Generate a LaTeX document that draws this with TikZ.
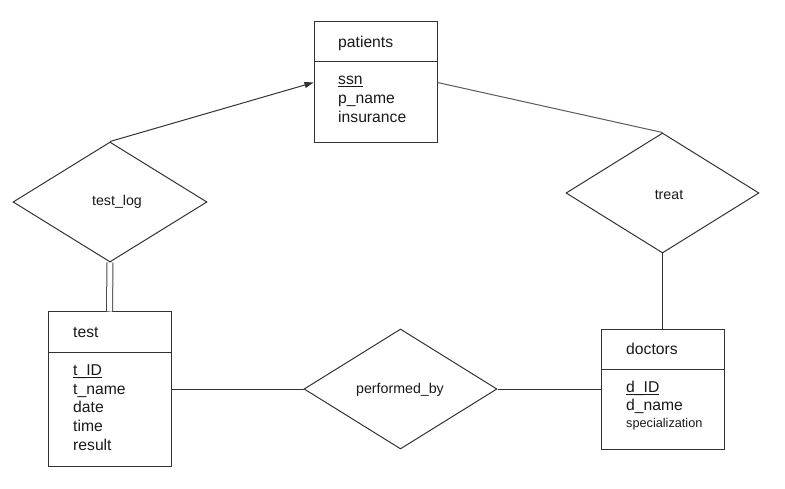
\documentclass[tikz,border=0pt]{standalone}
\usepackage{fontspec}
\setmainfont{Liberation Sans}
\usetikzlibrary{shapes.geometric,arrows.meta}
\newcommand\ulx[1]{\setbox0\hbox{#1}\rlap{\rule[-2.2pt]{\wd0}{0.9pt}}#1}
\begin{document}
\begin{tikzpicture}[x=1pt,y=-1pt,
  ent/.style={draw=black!80,line width=1pt,rectangle,minimum width=123pt,inner sep=0pt},
  rel/.style={draw=black!80,line width=1pt,diamond,minimum width=194pt,minimum height=120pt,inner sep=0pt},
  reltxt/.style={inner sep=0pt,font=\fontsize{14.2}{16}\selectfont,text=black!90},
  txt/.style={anchor=base west,inner sep=0pt,font=\fontsize{15.7}{18}\selectfont,text=black!90},
  small/.style={anchor=base west,inner sep=0pt,font=\fontsize{12.7}{15}\selectfont,text=black!90},
  conn/.style={draw=black!80,line width=1pt}]
\useasboundingbox (0,0) rectangle (785,489);
% entities
\node[ent,minimum height=121pt] (pat) at (375.5,82.5) {};
\node[ent,minimum height=154pt] (test) at (109.5,389) {};
\node[ent,minimum height=120pt] (doc) at (662.5,389) {};
\draw[conn] (pat.west |- 0,62) -- (pat.east |- 0,62);
\draw[conn] (test.west |- 0,352) -- (test.east |- 0,352);
\draw[conn] (doc.west |- 0,369) -- (doc.east |- 0,369);
% patients text
\node[txt] (pt) at (338,48) {patients};
\node[txt] (pa1) at (338,85) {\ulx{ssn}};
\node[txt] (pa2) at (338,104) {p\_name};
\node[txt] (pa3) at (338,122.5) {insurance};
% test text
\node[txt] (tt) at (73,337.5) {test};
\node[txt] (ta1) at (73,375.5) {\ulx{t\_ID}};
\node[txt] (ta2) at (73,394.2) {t\_name};
\node[txt] (ta3) at (73,412.8) {date};
\node[txt] (ta4) at (73,431.4) {time};
\node[txt] (ta5) at (73,450) {result};
% doctors text
\node[txt] (dt) at (626,354) {doctors};
\node[txt] (da1) at (626,392.5) {\ulx{d\_ID}};
\node[txt] (da2) at (626,410.8) {d\_name};
\node[small] (da3) at (626,427) {specialization};
% relationships
\node[rel] (tl) at (110,202) {};
\node[rel,minimum width=193pt] (tr) at (662.5,193) {};
\node[rel,minimum width=193pt] (pb) at (400.5,389) {};
\node[reltxt] (tlt) at (117,202) {test\_log};
\node[reltxt] (trt) at (669,194.5) {treat};
\node[reltxt] (pbt) at (400,390) {performed\_by};
% connectors
\draw[conn,-{Triangle[length=9pt,width=6pt]}] (tl.north) -- (pat.west);
\draw[draw=black!65,line width=1pt] (pat.east) -- (tr.north);
\draw[draw=black!70,line width=1pt,double=white,double distance=5pt] (tl.south) -- (test.north);
\draw[conn] (tr.south) -- (doc.north);
\draw[conn] (test.east) -- (pb.west);
\draw[conn] (pb.east) -- (doc.west);
\end{tikzpicture}
\end{document}
